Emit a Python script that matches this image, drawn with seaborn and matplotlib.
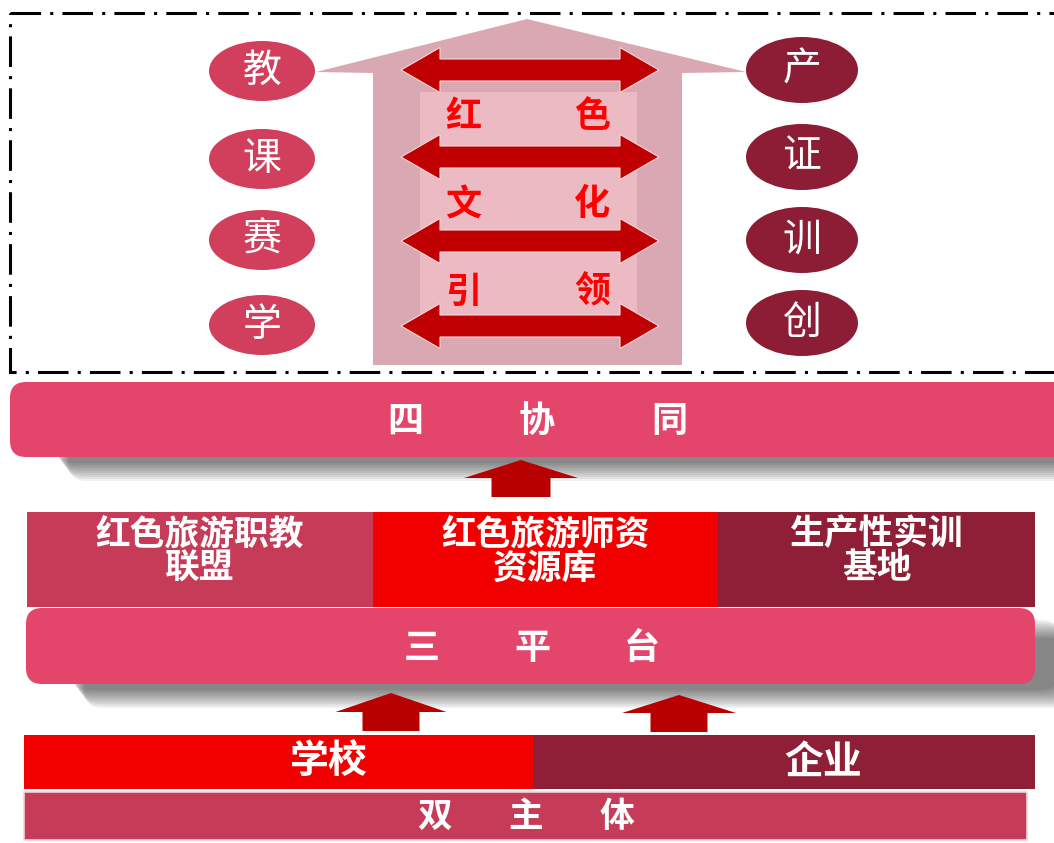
import numpy as np
import matplotlib
matplotlib.use("Agg")
import matplotlib.pyplot as plt
import seaborn as sns
from matplotlib.patches import Polygon, Rectangle, Ellipse, FancyBboxPatch

# Texts of the diagram
left_chars = ["教", "课", "赛", "学"]
right_chars = ["产", "证", "训", "创"]
center_words = [("红", "色"), ("文", "化"), ("引", "领")]
top_layer = ["四", "协", "同"]
platforms = ["红色旅游职教\n联盟", "红色旅游师资\n资源库", "生产性实训\n基地"]
middle_layer = ["三", "平", "台"]
subjects = ["学校", "企业"]
base_layer = ["双", "主", "体"]

# Colours
pink = "#e4456a"
rose = "#c63c58"
bright = "#f20000"
maroon = "#8e1f36"
arrow_red = "#b80000"

sns.set_theme(style="white")
plt.rcParams['font.family'] = ['Noto Sans CJK SC', 'DejaVu Sans']

fig = plt.figure(figsize=(10.54, 8.43), dpi=100)
ax = fig.add_axes([0, 0, 1, 1])
ax.set_xlim(0, 1054)
ax.set_ylim(843, 0)
ax.axis("off")


def up_arrow(xc, y_top, y_neck, y_bot, head_w, shaft_w, color):
    pts = [(xc, y_top), (xc + head_w / 2, y_neck), (xc + shaft_w / 2, y_neck),
           (xc + shaft_w / 2, y_bot), (xc - shaft_w / 2, y_bot),
           (xc - shaft_w / 2, y_neck), (xc - head_w / 2, y_neck)]
    ax.add_patch(Polygon(pts, closed=True, facecolor=color, edgecolor="none", zorder=3))


def double_arrow(x0, x1, yc, body_h, head_h, head_l, color):
    pts = [(x0, yc), (x0 + head_l, yc - head_h / 2), (x0 + head_l, yc - body_h / 2),
           (x1 - head_l, yc - body_h / 2), (x1 - head_l, yc - head_h / 2), (x1, yc),
           (x1 - head_l, yc + head_h / 2), (x1 - head_l, yc + body_h / 2),
           (x0 + head_l, yc + body_h / 2), (x0 + head_l, yc + head_h / 2)]
    ax.add_patch(Polygon(pts, closed=True, facecolor=color, edgecolor="#f4d8dc", lw=0.8))


def rounded_bar(x, y, w, h, color, shadow=True):
    if shadow:
        for k in range(10):
            ax.add_patch(FancyBboxPatch((x + 45 + k * 1.5, y + 12 + k * 2), w - 20, h - 6,
                                        boxstyle="round,pad=0,rounding_size=18",
                                        facecolor="black", edgecolor="none",
                                        alpha=0.06, zorder=1))
    ax.add_patch(FancyBboxPatch((x, y), w, h, boxstyle="round,pad=0,rounding_size=16",
                                facecolor=color, edgecolor="none", zorder=2))


def spaced_text(chars, xc, yc, step, size):
    xs = xc + (np.arange(len(chars)) - (len(chars) - 1) / 2) * step
    for ch, xx in zip(chars, xs):
        ax.text(xx, yc, ch, ha="center", va="center", color="white",
                fontsize=size, fontweight="bold", zorder=5)


# ---- top section: dash-dot frame ----
ax.add_patch(Rectangle((10, 13), 1100, 359, fill=False, edgecolor="black",
                       lw=2.2, linestyle=(0, (10, 3, 1, 3)), zorder=6))

# big pale up arrow
big = [(373, 365), (373, 73), (316, 72), (527, 19), (746, 72), (682, 73), (682, 365)]
ax.add_patch(Polygon(big, closed=True, facecolor="#d9a8b2", edgecolor="none", zorder=1))
ax.add_patch(Rectangle((420, 92), 217, 223, facecolor="#ecbac3", edgecolor="none", zorder=1))

arrow_rows = [70, 157, 241, 326]
for yc in arrow_rows:
    double_arrow(401, 659, yc, 22, 45, 39, "#c00000")

word_rows = [117, 205, 292]
for (a, b), yc in zip(center_words, word_rows):
    ax.text(463, yc, a, ha="center", va="center", color="#ff0000",
            fontsize=26, fontweight="bold", zorder=4)
    ax.text(592, yc, b, ha="center", va="center", color="#ff0000",
            fontsize=26, fontweight="bold", zorder=4)

left_rows = [71, 159, 240, 325]
for ch, yc in zip(left_chars, left_rows):
    ax.add_patch(Ellipse((262, yc), 106, 60, facecolor="#d23f5d", edgecolor="none", zorder=3))
    ax.text(262, yc, ch, ha="center", va="center", color="white", fontsize=28, zorder=4)

right_rows = [70, 157, 240, 323]
for ch, yc in zip(right_chars, right_rows):
    ax.add_patch(Ellipse((802, yc), 112, 66, facecolor="#8c1d35", edgecolor="none", zorder=3))
    ax.text(802, yc, ch, ha="center", va="center", color="white", fontsize=28, zorder=4)

# ---- 四协同 ----
rounded_bar(10, 382, 1080, 75, pink)
spaced_text(top_layer, 537, 421, 132, 26)
up_arrow(521, 460, 478, 497, 114, 59, arrow_red)

# ---- platforms ----
plat_edges = [27, 373, 718, 1035]
plat_colors = [rose, bright, maroon]
for i, (lab, col) in enumerate(zip(platforms, plat_colors)):
    x0, x1 = plat_edges[i], plat_edges[i + 1]
    ax.add_patch(Rectangle((x0, 512), x1 - x0, 95, facecolor=col, edgecolor="none", zorder=2))
    ax.text((x0 + x1) / 2, 551, lab, ha="center", va="center", color="white",
            fontsize=25, fontweight="bold", linespacing=0.98, zorder=5)

# ---- 三平台 ----
rounded_bar(26, 608, 1009, 76, pink)
spaced_text(middle_layer, 532, 648, 110, 26)
up_arrow(391, 693, 712, 731, 111, 57, arrow_red)
up_arrow(679, 695, 713, 732, 114, 57, arrow_red)

# ---- subjects ----
subj_edges = [24, 534, 1035]
subj_centers = [329, 823]
subj_colors = [bright, maroon]
for i, (lab, col) in enumerate(zip(subjects, subj_colors)):
    x0, x1 = subj_edges[i], subj_edges[i + 1]
    ax.add_patch(Rectangle((x0, 735), x1 - x0, 54, facecolor=col, edgecolor="none", zorder=2))
    ax.text(subj_centers[i], 762, lab, ha="center", va="center", color="white",
            fontsize=28, fontweight="bold", zorder=5)

# ---- 双主体 ----
ax.add_patch(Rectangle((24, 792), 1003, 48, facecolor=rose, edgecolor="#f3d3da",
                       lw=1.2, zorder=2))
spaced_text(base_layer, 526, 816, 91, 25)

fig.savefig("out.png", dpi=100)
